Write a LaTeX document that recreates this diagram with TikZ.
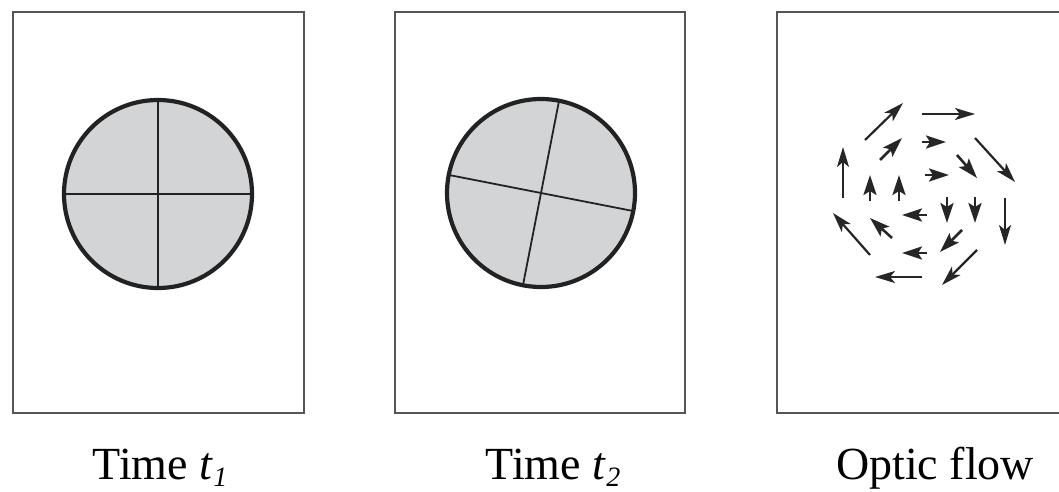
\documentclass[tikz,border=0pt]{standalone}
\usepackage{fontspec}
\setmainfont{Liberation Serif}
\usetikzlibrary{arrows.meta}
\definecolor{cdisco}{HTML}{D3D4D6}
\definecolor{cborde}{HTML}{222222}
\definecolor{cmarco}{HTML}{555555}
\newcommand{\subind}[1]{\raisebox{-0.35ex}{\fontsize{14}{14}\selectfont\itshape #1}}
\tikzset{
  cuadro/.style={draw=cmarco,line width=1.1pt},
  disco/.style={draw=cborde,line width=2.1pt},
  cruz/.style={draw=cborde,line width=0.9pt},
  flechal/.style={-{Stealth[length=10pt,width=6pt,inset=2.5pt]},draw=black!85,line width=1.1pt},
  flechac/.style={-{Stealth[length=10pt,width=6.5pt,inset=2pt]},draw=black!85,line width=1.3pt},
  rotulo/.style={font=\fontsize{23}{27}\selectfont,anchor=base,inner sep=0pt},
}
\begin{document}
\begin{tikzpicture}[x=0.5pt,y=-0.5pt]
\useasboundingbox (0,0) rectangle (1059,492);

% marcos (el tercero queda cortado a la derecha)
\draw[cuadro] (13,12) rectangle (304,413);
\draw[cuadro] (395,12) rectangle (685,413);
\draw[cuadro] (1059,12) -| (777,413) -- (1059,413);

% disco en t1
\fill[cdisco] (158,194) circle[radius=94];
\draw[cruz] (158,100) -- (158,288);
\draw[cruz] (64,194) -- (252,194);
\draw[disco] (158,194) circle[radius=94];

% disco en t2, girado
\fill[cdisco] (541,193) circle[radius=94];
\draw[cruz] (559,101) -- (523,285);
\draw[cruz] (449,175) -- (633,211);
\draw[disco] (541,193) circle[radius=94];

% flujo optico: anillo exterior
\foreach \xa/\ya/\xb/\yb in {865/140/903/103, 922/114/975/114, 975/138/1015/182,
  1005/198/1005/245, 977/250/942/285, 922/277/875/277, 870/255/833/213, 843/198/843/147}{
  \draw[flechal] (\xa,\ya) -- (\xb,\yb);
}
% flechas cortas
\foreach \xa/\ya/\xb/\yb in {880/160/902/138, 922/142/946/142, 925/175/949/175,
  957/155/977/178, 870/201/870/175, 899/201/899/175, 947/197/947/223, 975/197/975/223,
  927/215/902/215, 892/238/870/218, 962/230/940/252, 927/253/902/253}{
  \draw[flechac] (\xa,\ya) -- (\xb,\yb);
}

\node[rotulo] (t1) at (160,479) {Time \textit{t}\subind{1}};
\node[rotulo] (t2) at (553,479) {Time \textit{t}\subind{2}};
\node[rotulo] (flujo) at (935,479) {Optic flow};

\end{tikzpicture}
\end{document}
